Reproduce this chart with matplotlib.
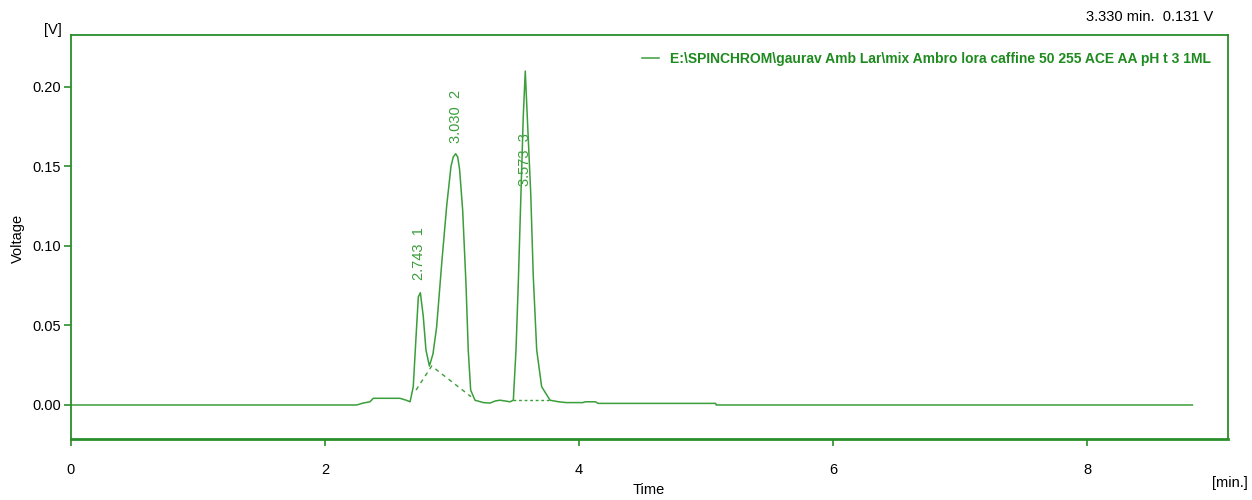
import matplotlib
matplotlib.use("Agg")
import matplotlib.pyplot as plt
from matplotlib import font_manager

plt.rcParams['font.family'] = ['Liberation Sans', 'DejaVu Sans']

# chromatogram trace (time in min, signal in V)
time = [0.0, 2.25, 2.30, 2.354, 2.38, 2.59, 2.64, 2.67, 2.695, 2.717, 2.735, 2.751,
        2.774, 2.795, 2.822, 2.85, 2.879, 2.919, 2.958, 2.992, 3.010, 3.029, 3.045,
        3.060, 3.084, 3.110, 3.128, 3.147, 3.181, 3.247, 3.30, 3.34, 3.378, 3.42,
        3.457, 3.483, 3.504, 3.522, 3.543, 3.561, 3.577, 3.593, 3.620, 3.640, 3.667,
        3.706, 3.772, 3.84, 3.90, 4.03, 4.05, 4.13, 4.15, 5.076, 5.08, 8.83]
volt = [0.0, 0.0, 0.0012, 0.002, 0.0042, 0.0042, 0.0030, 0.002, 0.0115, 0.043, 0.068, 0.0706,
        0.0556, 0.0346, 0.0245, 0.032, 0.049, 0.089, 0.125, 0.150, 0.156, 0.158, 0.156,
        0.148, 0.1226, 0.0765, 0.0346, 0.0094, 0.003, 0.0015, 0.0012, 0.0025, 0.003,
        0.0025, 0.002, 0.003, 0.0346, 0.0765, 0.133, 0.181, 0.210, 0.181, 0.133, 0.081,
        0.0346, 0.0115, 0.003, 0.002, 0.0015, 0.0015, 0.002, 0.002, 0.001, 0.001, 0.0, 0.0]

# integration baselines
base1_t = [2.717, 2.84, 3.15]
base1_v = [0.0094, 0.0245, 0.0052]
base2_t = [3.483, 3.76]
base2_v = [0.003, 0.003]

peak_t = [2.743, 3.030, 3.573]
peak_id = [1, 2, 3]
label_v = [0.0786, 0.165, 0.138]

legend_text = "E:\\SPINCHROM\\gaurav Amb Lar\\mix Ambro lora caffine 50 255 ACE AA pH t 3 1ML"

line_c = '#3a9e3a'
axis_c = '#2a8f2a'

installed = {f.name for f in font_manager.fontManager.ttflist}
narrow = 'Liberation Sans Narrow' if 'Liberation Sans Narrow' in installed else 'Liberation Sans'

fig = plt.figure(figsize=(12.52, 5), dpi=100)
ax = fig.add_axes([0.0567, 0.122, 0.9241, 0.808])

ax.plot(time, volt, color=line_c, lw=1.1, label=legend_text)
ax.plot(base1_t, base1_v, color=line_c, lw=1.0, ls=(0, (3, 3)))
ax.plot(base2_t, base2_v, color=line_c, lw=1.0, ls=(0, (2, 2)))

for t, i, v in zip(peak_t, peak_id, label_v):
    ax.text(t, v, f"{t:.3f}  {i}", rotation=90, ha='center', va='bottom',
            color=line_c, fontsize=10.5)

ax.set_xlim(0, 9.11)
ax.set_ylim(-0.0214, 0.2327)
ax.set_xticks([0, 2, 4, 6, 8])
ax.set_yticks([0.0, 0.05, 0.10, 0.15, 0.20])
ax.set_yticklabels(["0.00", "0.05", "0.10", "0.15", "0.20"])
ax.tick_params(axis='both', direction='out', length=5, width=1.2, color=axis_c,
               labelsize=10.5)
ax.tick_params(axis='x', pad=12)
ax.tick_params(axis='y', pad=2)
for lbl in ax.get_xticklabels() + ax.get_yticklabels():
    lbl.set_family(narrow)
for s in ax.spines.values():
    s.set_color(axis_c)
    s.set_linewidth(1.3)
ax.spines['bottom'].set_linewidth(2)

leg = ax.legend(loc='upper right', frameon=False, handlelength=1.2,
                bbox_to_anchor=(0.996, 0.99), prop={'weight': 'bold', 'size': 10})
for txt in leg.get_texts():
    txt.set_color('#1f8a1f')

fig.text(0.0355, 0.94, "[V]", fontsize=10.5, va='center', family=narrow)
fig.text(0.968, 0.033, "[min.]", fontsize=10.5, va='center', family=narrow)
fig.text(0.518, 0.02, "Time", fontsize=10.5, ha='center', va='center', family=narrow)
fig.text(0.0145, 0.524, "Voltage", fontsize=10.5, rotation=90, ha='center', va='center')
fig.text(0.969, 0.966, "3.330 min.  0.131 V", fontsize=10.5, ha='right', va='center',
         family=narrow)

fig.savefig("out.png", dpi=100)
